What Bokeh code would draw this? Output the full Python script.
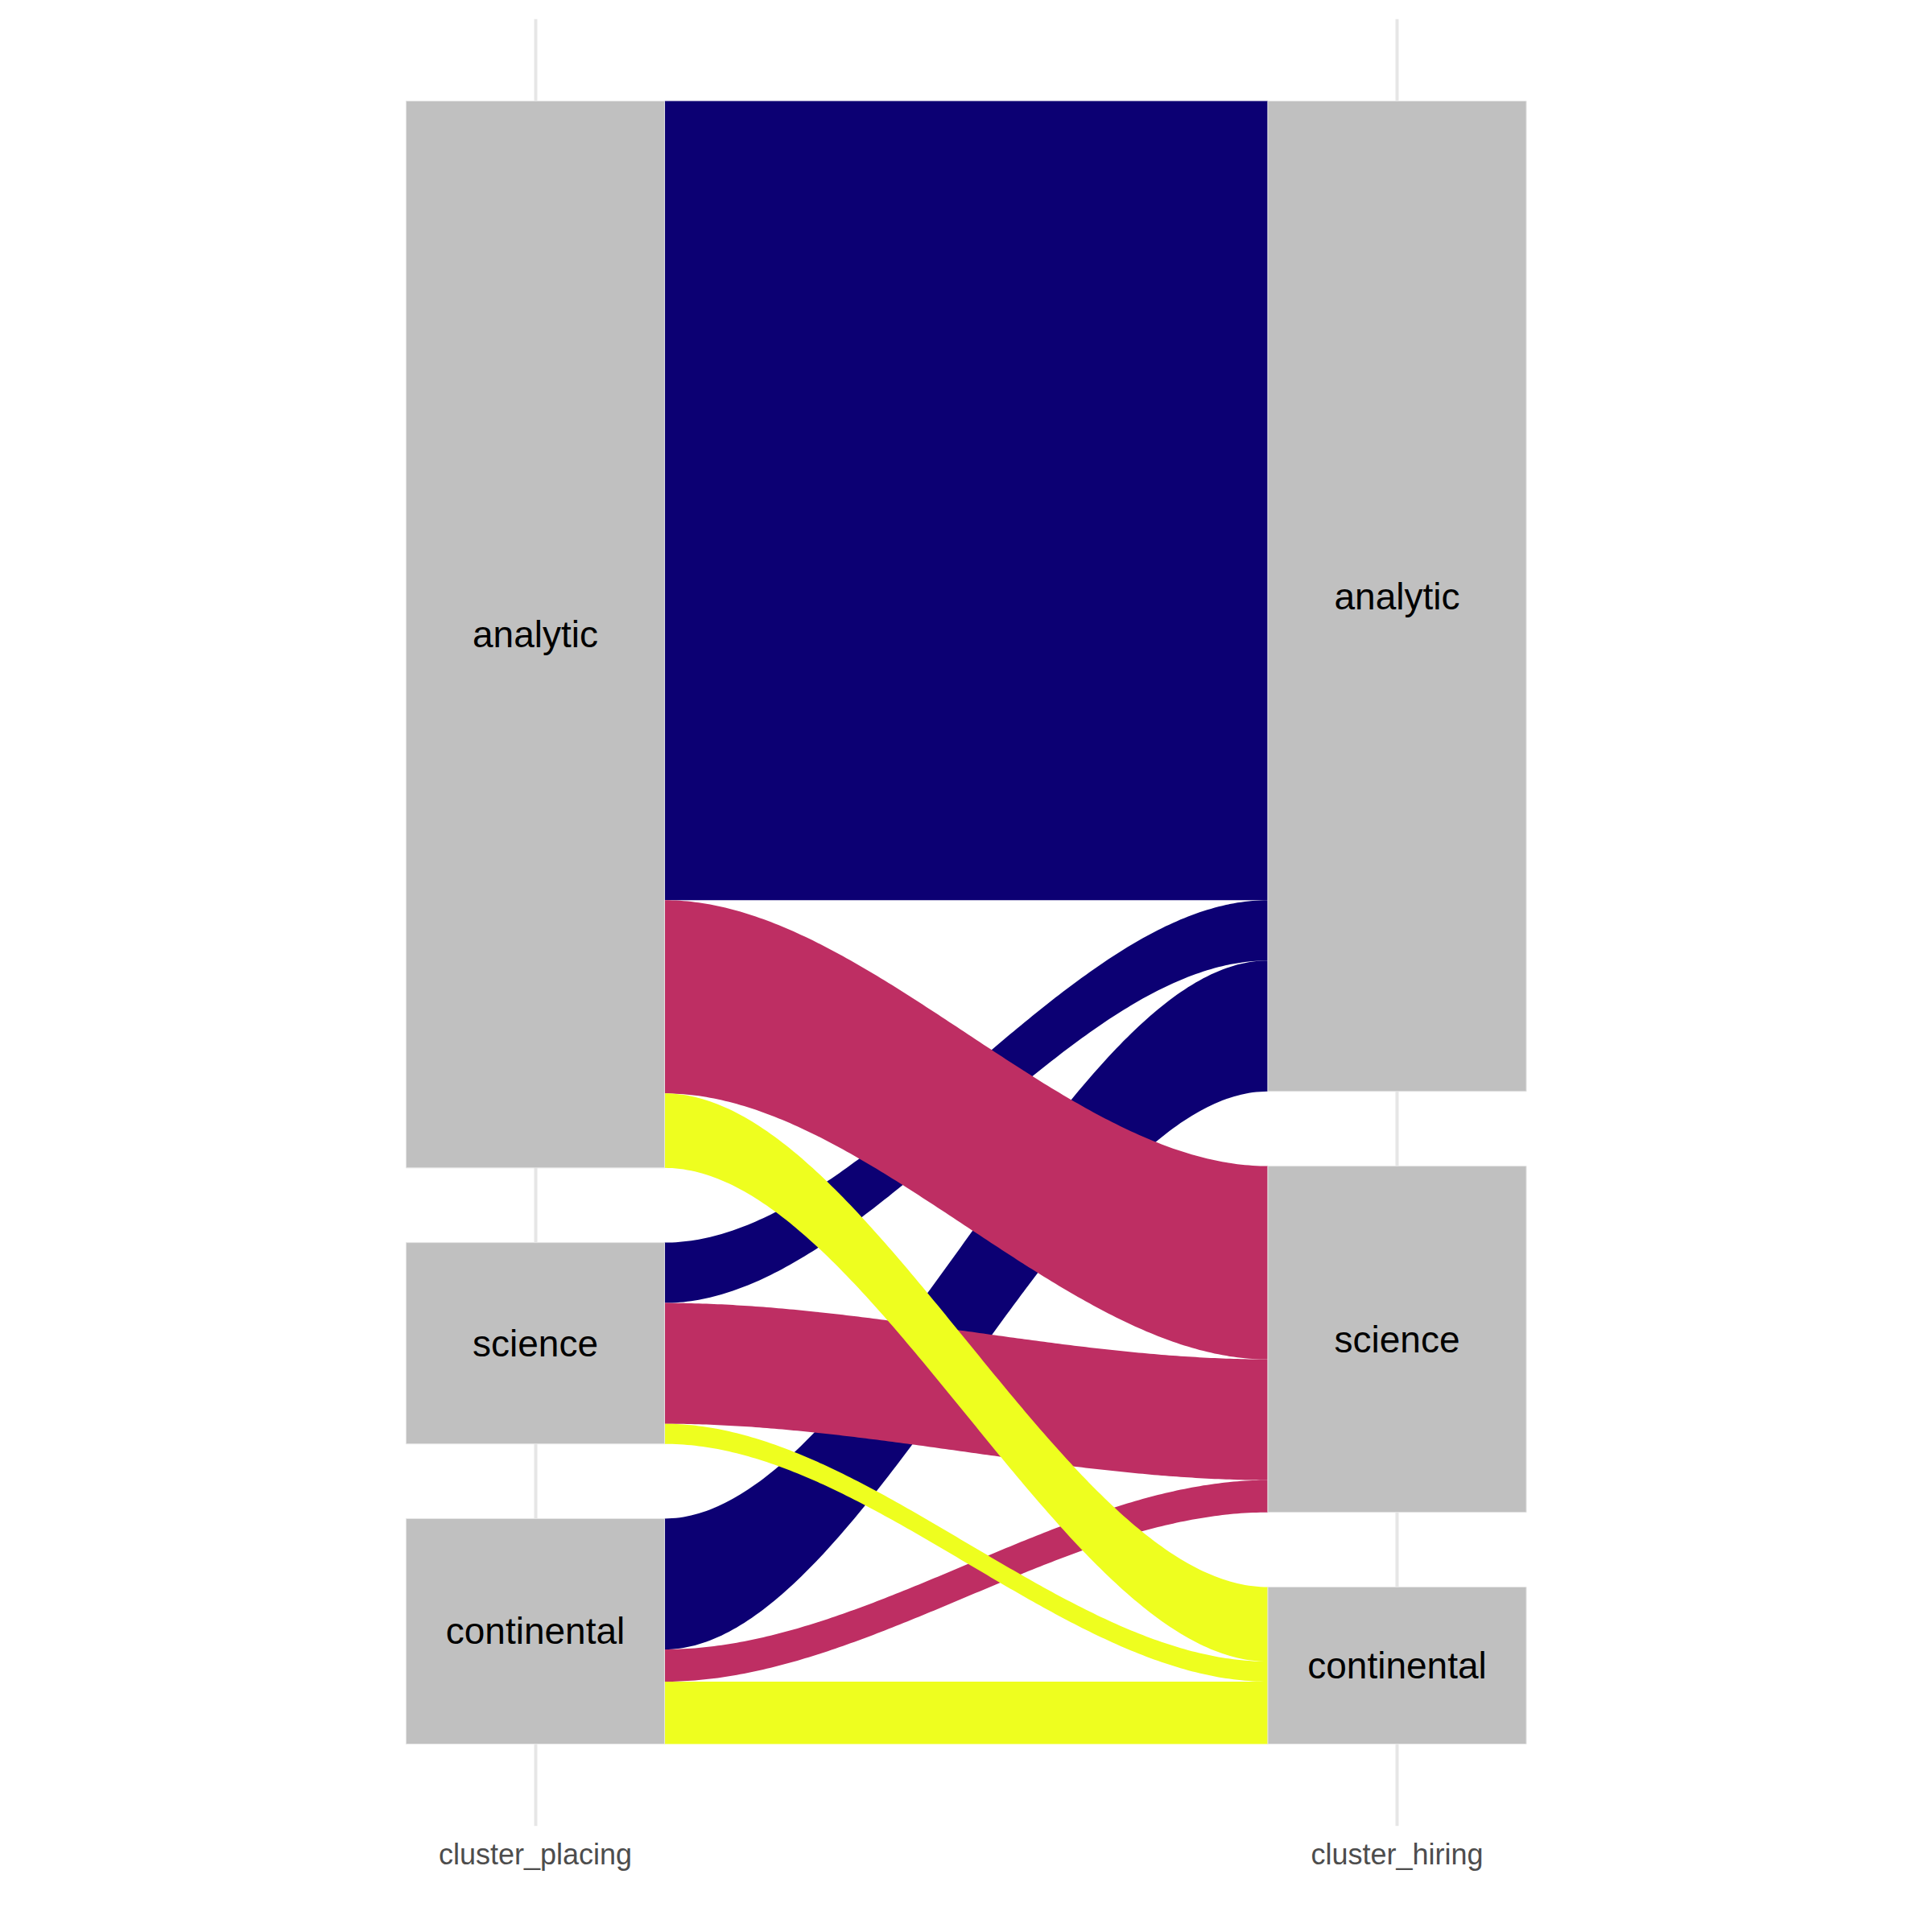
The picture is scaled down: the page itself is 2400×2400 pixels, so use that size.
import numpy as np
from bokeh.plotting import figure
from bokeh.models import Range1d, FixedTicker, ColumnDataSource
from bokeh.core.properties import value
from bokeh.embed import file_html
from bokeh.resources import INLINE

# ---------------- data ----------------
categories = ["analytic", "science", "continental"]
axis_labels = ["cluster_placing", "cluster_hiring"]
# flows from each placing cluster to hiring clusters (analytic, science, continental)
from_analytic = [397, 96, 37]
from_science = [30, 60, 10]
from_continental = [65, 16, 31]
flow_colors = ["#0C0073", "#BE2E63", "#EEFE1F"]  # by hiring cluster

# ---------------- layout constants ----------------
GAP_FRAC = 0.05
STRATUM_W = 0.3
STRATUM_COLOR = "#C0C0C0"

M = np.array([from_analytic, from_science, from_continental], dtype=float)
n = len(categories)
T = M.sum()
gap = GAP_FRAC * T
top = T + (n - 1) * gap
L = M.sum(axis=1)
R = M.sum(axis=0)

left_tops = [top - sum(L[:i]) - i * gap for i in range(n)]
right_tops = [top - sum(R[:j]) - j * gap for j in range(n)]

# pixel-derived ranges
ppu_y = 2041.0 / top
pad_y = 102.0 / ppu_y
ppu_x = 1070.5
x_start = 1 - 664.5 / ppu_x
x_end = x_start + 2400.0 / ppu_x

p = figure(width=2400, height=2400, output_backend="svg", toolbar_location=None,
           x_range=Range1d(x_start, x_end), y_range=Range1d(-pad_y, top + pad_y),
           y_axis_location=None, min_border_top=23, min_border_bottom=132,
           min_border_left=0, min_border_right=0)
p.outline_line_color = None
p.background_fill_color = "white"
p.border_fill_color = "white"

ticker = FixedTicker(ticks=[1, 2])
p.xgrid.ticker = ticker
p.xgrid.grid_line_color = "#E6E6E6"
p.xgrid.grid_line_width = 4
p.ygrid.grid_line_color = None

ax = p.xaxis[0]
ax.ticker = ticker
ax.major_label_overrides = {1: axis_labels[0], 2: axis_labels[1]}
ax.axis_line_color = None
ax.major_tick_line_color = None
ax.minor_tick_line_color = None
ax.major_tick_out = 0
ax.major_tick_in = 0
ax.major_label_standoff = 14
ax.major_label_text_font = "Liberation Sans"
ax.major_label_text_font_size = "36px"
ax.major_label_text_color = "#4D4D4D"

# ---------------- flows ----------------
xl = 1 + STRATUM_W / 2
xr = 2 - STRATUM_W / 2
s = np.linspace(0, 1, 160)
ss = 3 * s ** 2 - 2 * s ** 3
xc = xl + (xr - xl) * s

for j in range(n):  # draw by colour group
    xs_list, ys_list = [], []
    for i in range(n):
        v = M[i, j]
        lt = left_tops[i] - M[i, :j].sum()
        rt = right_tops[j] - M[:i, j].sum()
        top_edge = lt + (rt - lt) * ss
        bot_edge = top_edge - v
        xs_list.append(list(xc) + list(xc[::-1]))
        ys_list.append(list(top_edge) + list(bot_edge[::-1]))
    p.patches(xs_list, ys_list, fill_color=flow_colors[j], line_color=None)

# ---------------- strata ----------------
sl, sr, st, sb, tx, ty, tt = [], [], [], [], [], [], []
for k, (tops, tot) in enumerate([(left_tops, L), (right_tops, R)]):
    xcen = 1 + k
    for i in range(n):
        sl.append(xcen - STRATUM_W / 2)
        sr.append(xcen + STRATUM_W / 2)
        st.append(tops[i])
        sb.append(tops[i] - tot[i])
        tx.append(xcen)
        ty.append(tops[i] - tot[i] / 2)
        tt.append(categories[i])

p.quad(left=sl, right=sr, top=st, bottom=sb, fill_color=STRATUM_COLOR,
       line_color="#E6E6E6", line_width=1)
p.text(x=tx, y=ty, text=tt, text_align="center", text_baseline="middle",
       text_font=value("Liberation Sans"), text_font_size=value("46px"),
       text_color="black")

open("out.html", "w").write(file_html(p, INLINE))
